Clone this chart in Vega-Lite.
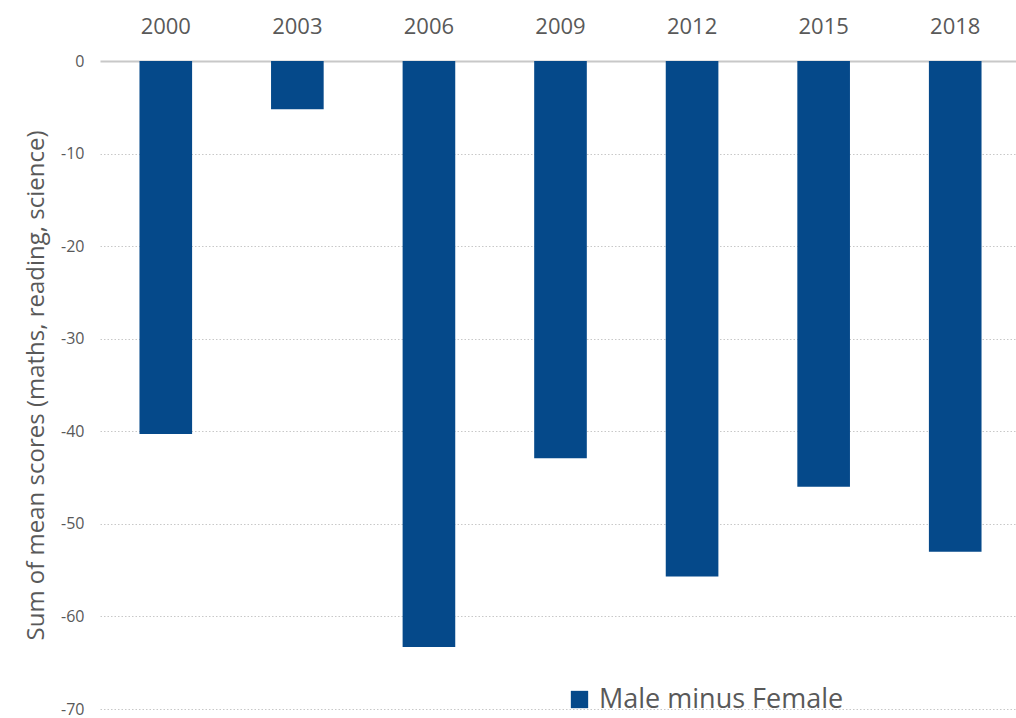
{
  "$schema": "https://vega.github.io/schema/vega-lite/v6.json",
  "autosize": "none",
  "padding": {"left": 100, "top": 61, "right": 0, "bottom": 9},
  "width": 921,
  "height": 648,
  "background": "white",
  "config": {"view": {"stroke": null}, "font": "Open Sans"},
  "data": {"values": [
    {"year": "2000", "diff": -40.3, "series": "Male minus Female"},
    {"year": "2003", "diff": -5.2, "series": "Male minus Female"},
    {"year": "2006", "diff": -63.3, "series": "Male minus Female"},
    {"year": "2009", "diff": -42.9, "series": "Male minus Female"},
    {"year": "2012", "diff": -55.7, "series": "Male minus Female"},
    {"year": "2015", "diff": -46.0, "series": "Male minus Female"},
    {"year": "2018", "diff": -53.0, "series": "Male minus Female"}
  ]},
  "mark": {"type": "bar"},
  "encoding": {
    "x": {
      "field": "year", "type": "nominal",
      "scale": {"paddingInner": 0.6, "paddingOuter": 0.3},
      "axis": {
        "orient": "top", "title": null, "labelAngle": 0, "labelFontSize": 22,
        "labelColor": "#595959", "labelPadding": 23, "ticks": false, "domain": false
      }
    },
    "y": {
      "field": "diff", "type": "quantitative",
      "scale": {"domain": [-70, 0], "nice": false},
      "axis": {
        "title": "Sum of mean scores (maths, reading, science)",
        "titleFontSize": 24, "titleFontWeight": "normal", "titleColor": "#595959",
        "titlePadding": 12,
        "values": [0, -10, -20, -30, -40, -50, -60, -70],
        "labelExpr": "'' + datum.value",
        "labelFontSize": 16, "labelColor": "#595959", "labelPadding": 16,
        "ticks": false, "domain": false,
        "gridColor": "#c8c8c8",
        "gridWidth": {"condition": {"test": "datum.value === 0", "value": 2}, "value": 1},
        "gridDash": {"condition": {"test": "datum.value === 0", "value": []}, "value": [1.5, 2]}
      }
    },
    "color": {
      "field": "series", "type": "nominal",
      "scale": {"range": ["#05498A"]},
      "legend": {
        "title": null, "orient": "none", "legendX": 466, "legendY": 625,
        "symbolType": "square", "symbolSize": 300, "symbolStrokeWidth": 0,
        "labelFontSize": 27, "labelColor": "#595959", "labelOffset": 6, "labelLimit": 0
      }
    }
  }
}
